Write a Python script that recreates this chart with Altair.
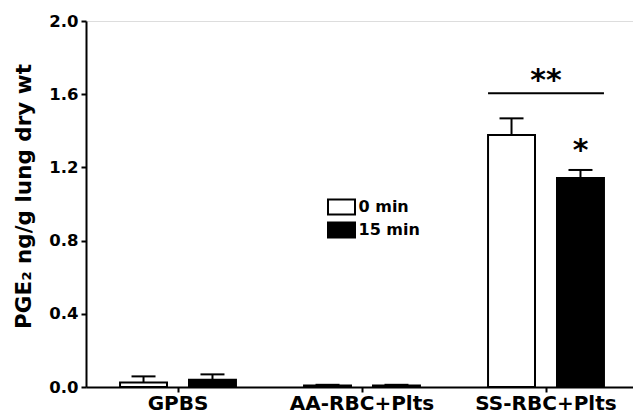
import altair as alt
import pandas as pd

groups = ["GPBS", "AA-RBC+Plts", "SS-RBC+Plts"]
times = ["0 min", "15 min"]
means_0 = [0.025, 0.008, 1.377]
means_15 = [0.040, 0.008, 1.142]
sem_0 = [0.033, 0.004, 0.091]
sem_15 = [0.029, 0.004, 0.044]
y_ticks = [0.0, 0.2, 0.4, 0.6, 0.8, 1.0, 1.2, 1.4, 1.6, 1.8, 2.0]

rows = []
for g, m0, m15, s0, s15 in zip(groups, means_0, means_15, sem_0, sem_15):
    rows.append({"group": g, "time": times[0], "mean": m0, "upper": m0 + s0})
    rows.append({"group": g, "time": times[1], "mean": m15, "upper": m15 + s15})
df = pd.DataFrame(rows)

star_one = pd.DataFrame({"group": ["SS-RBC+Plts"], "time": ["15 min"], "y": [1.318], "label": ["*"]})
star_two = pd.DataFrame({"group": ["SS-RBC+Plts"], "y": [1.705], "label": ["**"]})
bracket = pd.DataFrame({"group": ["SS-RBC+Plts"], "y": [1.605]})

FONT = "DejaVu Sans"

x_scale = alt.Scale(domain=groups, range=[0, 552], paddingInner=0.37, paddingOuter=0.185)
xo_scale = alt.Scale(domain=times, paddingInner=0.319, paddingOuter=0)
y_scale = alt.Scale(domain=[0, 2], nice=False, zero=True)

x_axis = alt.Axis(
    title=None, labelAngle=0, labelFont=FONT, labelFontWeight="bold", labelFontSize=20,
    labelColor="black", tickSize=5, tickWidth=2, tickColor="black",
    domainWidth=2, domainColor="black", labelPadding=1,
)
y_axis = alt.Axis(
    values=y_ticks,
    labelExpr="(round(datum.value*10) % 4 == 0) ? format(datum.value, '.1f') : ''",
    labelFont=FONT, labelFontWeight="bold", labelFontSize=16.5, labelColor="black",
    tickSize=5, tickWidth=2, tickColor="black", domainWidth=2, domainColor="black",
    labelPadding=3, grid=False,
    title="PGE₂ ng/g lung dry wt", titleFont=FONT, titleFontSize=21.5, titleFontWeight="bold",
    titleColor="black", titleX=-62, titleY=175, titleAngle=270, titleAlign="center",
    titleBaseline="middle",
)

base = alt.Chart(df)

bars = base.mark_bar(stroke="black", strokeWidth=2).encode(
    x=alt.X("group:N", sort=groups, scale=x_scale, axis=x_axis),
    xOffset=alt.XOffset("time:N", sort=times, scale=xo_scale),
    y=alt.Y("mean:Q", scale=y_scale, axis=y_axis),
    fill=alt.Fill(
        "time:N", sort=times,
        scale=alt.Scale(domain=times, range=["white", "black"]),
        legend=alt.Legend(
            title=None, orient="none", legendX=244.5, legendY=175, padding=0,
            symbolType="M-1.35,-0.75L1.35,-0.75L1.35,0.75L-1.35,0.75Z", symbolSize=400,
            symbolStrokeColor="black", symbolStrokeWidth=2, symbolOpacity=1,
            labelFont=FONT, labelFontWeight="bold", labelFontSize=16, labelColor="black",
            labelOffset=6, rowPadding=-1,
        ),
    ),
)

stems = base.mark_rule(color="black", strokeWidth=2).encode(
    x=alt.X("group:N", sort=groups, scale=x_scale),
    xOffset=alt.XOffset("time:N", sort=times, scale=xo_scale),
    y=alt.Y("mean:Q", scale=y_scale),
    y2="upper:Q",
)

caps = base.mark_tick(color="black", thickness=2, size=24, orient="horizontal", opacity=1).encode(
    x=alt.X("group:N", sort=groups, scale=x_scale),
    xOffset=alt.XOffset("time:N", sort=times, scale=xo_scale),
    y=alt.Y("upper:Q", scale=y_scale),
)

s1 = alt.Chart(star_one).mark_text(font=FONT, fontWeight="bold", fontSize=30, color="black",
                                   baseline="alphabetic", dy=14).encode(
    x=alt.X("group:N", sort=groups, scale=x_scale),
    xOffset=alt.XOffset("time:N", sort=times, scale=xo_scale),
    y=alt.Y("y:Q", scale=y_scale),
    text="label:N",
)

s2 = alt.Chart(star_two).mark_text(font=FONT, fontWeight="bold", fontSize=30, color="black",
                                   baseline="alphabetic", dy=15).encode(
    x=alt.X("group:N", sort=groups, scale=x_scale),
    y=alt.Y("y:Q", scale=y_scale),
    text="label:N",
)

br = alt.Chart(bracket).mark_rule(color="black", strokeWidth=2).encode(
    x=alt.X("group:N", sort=groups, scale=x_scale, bandPosition=0),
    x2=alt.X2("group:N", bandPosition=1),
    y=alt.Y("y:Q", scale=y_scale),
)

chart = alt.layer(bars, stems, caps, br, s1, s2).properties(
    width=547, height=366,
    autosize=alt.AutoSizeParams(type="none"),
    padding={"left": 86, "top": 21, "right": 0, "bottom": 31},
).configure_view(stroke=None).configure(background="white")

chart.save("out.html", embed_options={"renderer": "svg", "actions": False})
